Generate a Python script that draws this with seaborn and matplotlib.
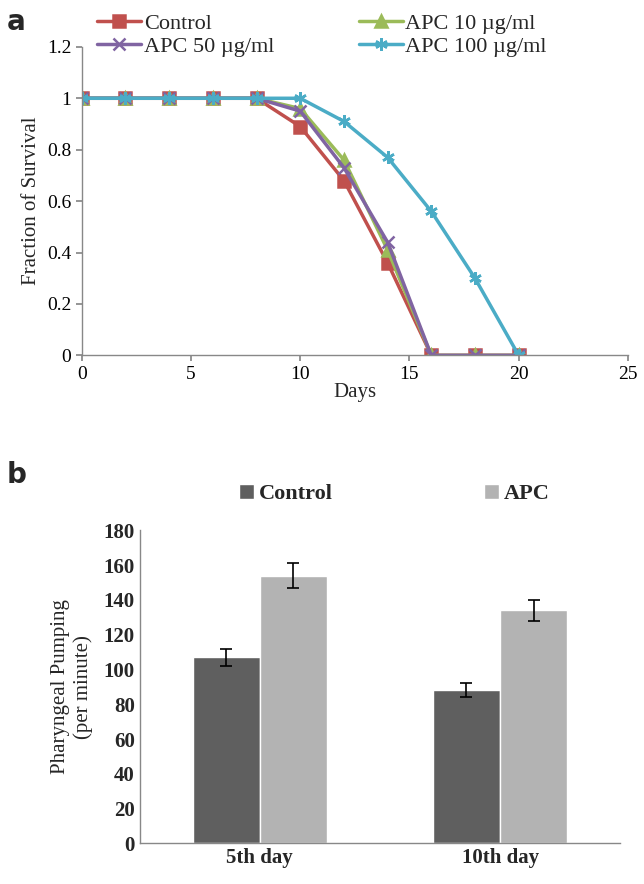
import matplotlib
matplotlib.use("Agg")
import matplotlib.pyplot as plt
import numpy as np
import pandas as pd
import seaborn as sns

# %% survival data
days = [0, 2, 4, 6, 8, 10, 12, 14, 16, 18, 20]
control = [1, 1, 1, 1, 1, 0.89, 0.68, 0.36, 0, 0, 0]
apc10 = [1, 1, 1, 1, 1, 0.96, 0.76, 0.41, 0, 0, 0]
apc50 = [1, 1, 1, 1, 1, 0.95, 0.73, 0.44, 0, 0, 0]
apc100 = [1, 1, 1, 1, 1, 1, 0.91, 0.77, 0.56, 0.30, 0]
series_names = ["Control", "APC 10 µg/ml", "APC 50 µg/ml", "APC 100 µg/ml"]

# %% pumping data
timepoints = ["5th day", "10th day"]
groups = ["Control", "APC"]
pump_control = [107, 88]
pump_apc = [154, 134]
err_control = [5, 4]
err_apc = [7, 6]

surv = pd.DataFrame(
    {
        "Days": days * 4,
        "Fraction": control + apc10 + apc50 + apc100,
        "Group": sum([[n] * len(days) for n in series_names], []),
    }
)
pump = pd.DataFrame(
    {
        "Day": timepoints * 2,
        "Group": [groups[0]] * 2 + [groups[1]] * 2,
        "Rate": pump_control + pump_apc,
        "Err": err_control + err_apc,
    }
)

sns.set_theme(style="white")
plt.rcParams["font.family"] = ["Liberation Serif", "DejaVu Serif"]
plt.rcParams["axes.edgecolor"] = "#888888"
plt.rcParams["axes.linewidth"] = 1.0

fig = plt.figure(figsize=(6.44, 8.84), dpi=100)

# %% panel a
ax1 = fig.add_axes([0.127, 0.598, 0.848, 0.349])
colors = ["#C0504D", "#9BBB59", "#8064A2", "#4BACC6"]
markers = ["s", "^", "x", (6, 2, 0)]
for name, col, mk in zip(series_names, colors, markers):
    sub = surv[surv.Group == name]
    sns.lineplot(
        data=sub, x="Days", y="Fraction", ax=ax1, color=col, marker=mk,
        markersize=9, markeredgewidth=1.8, markeredgecolor=col, linewidth=2.5,
        label=name,
    )
ax1.set_xlim(0, 25)
ax1.set_ylim(0, 1.2)
ax1.set_xticks(range(0, 26, 5))
ax1.set_yticks(np.arange(0, 1.21, 0.2))
ax1.set_yticklabels(["0", "0.2", "0.4", "0.6", "0.8", "1", "1.2"])
ax1.tick_params(labelsize=14, length=4, direction="out", left=True, bottom=True, colors="#888888", labelcolor="black")
ax1.set_xlabel("Days", fontsize=15, labelpad=0)
ax1.set_ylabel("Fraction of Survival", fontsize=15, labelpad=4)
sns.despine(ax=ax1)
# legend filled column-wise: reorder so rows read Control/APC10, APC50/APC100
h, l = ax1.get_legend_handles_labels()
order = [0, 2, 1, 3]
ax1.legend(
    [h[i] for i in order], [l[i] for i in order],
    loc="upper left", bbox_to_anchor=(0.13, 1.0), bbox_transform=fig.transFigure,
    ncol=2, frameon=False, fontsize=16, handlelength=2.0, handletextpad=0.1,
    columnspacing=3.8, labelspacing=0.1, borderaxespad=0.2,
)
fig.text(0.01, 0.975, "a", fontsize=20, fontweight="bold", family="DejaVu Sans", va="center")

# %% panel b
ax2 = fig.add_axes([0.217, 0.046, 0.746, 0.354])
sns.barplot(
    data=pump, x="Day", y="Rate", hue="Group", ax=ax2, width=0.56,
    palette=["#5F5F5F", "#B3B3B3"], errorbar=None, saturation=1,
)
for bar, e in zip(ax2.patches, pump["Err"]):
    ax2.errorbar(
        bar.get_x() + bar.get_width() / 2, bar.get_height(), yerr=e,
        color="black", capsize=4, elinewidth=1.2, capthick=1.2,
    )
ax2.set_ylim(0, 180)
ax2.set_xlim(-0.5, 1.5)
ax2.set_yticks(range(0, 181, 20))
ax2.tick_params(labelsize=15, length=0)
for lab in ax2.get_xticklabels() + ax2.get_yticklabels():
    lab.set_fontweight("bold")
ax2.set_xlabel("")
ax2.set_ylabel("Pharyngeal Pumping\n(per minute)", fontsize=15, labelpad=8)
sns.despine(ax=ax2)
ax2.legend(
    loc="lower center", bbox_to_anchor=(0.53, 1.02), ncol=2, frameon=False,
    handlelength=0.7, handleheight=0.7, handletextpad=0.2,
    columnspacing=6.8, prop={"size": 16, "weight": "bold"},
)
fig.text(0.01, 0.463, "b", fontsize=20, fontweight="bold", family="DejaVu Sans", va="center")

fig.savefig("out.png", dpi=100)
